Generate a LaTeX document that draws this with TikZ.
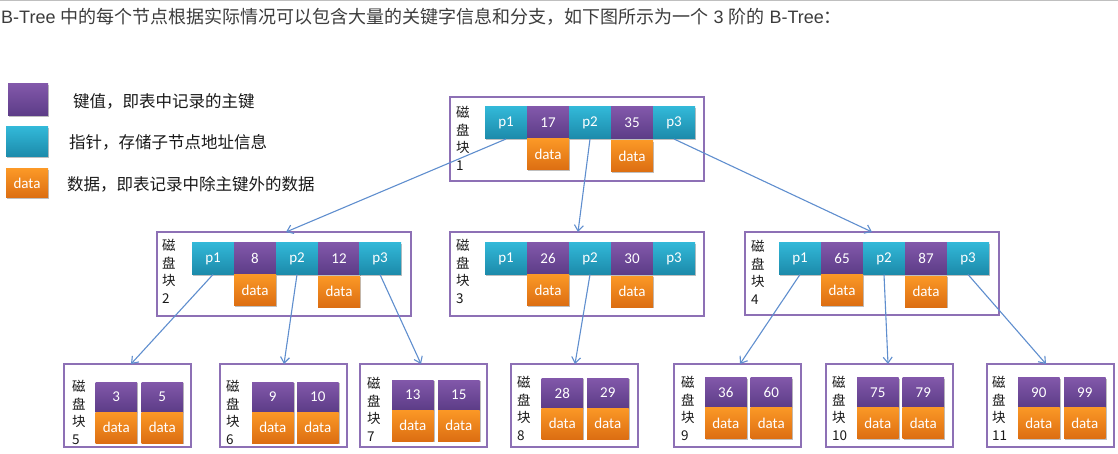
\documentclass[tikz,border=0pt]{standalone}
\usepackage{fontspec}
\setmainfont{Liberation Sans}
\newfontfamily\cjk{Noto Sans CJK SC}
\newfontfamily\calfont{Carlito}
\usetikzlibrary{shadows,arrows.meta,calc}
\definecolor{puT}{RGB}{130,88,170}
\definecolor{puB}{RGB}{92,60,135}
\definecolor{cyT}{RGB}{50,184,216}
\definecolor{cyB}{RGB}{28,138,170}
\definecolor{orT}{RGB}{251,152,38}
\definecolor{orB}{RGB}{220,110,18}
\definecolor{boxc}{RGB}{141,112,181}
\definecolor{arrc}{RGB}{95,142,206}
\definecolor{hdr}{RGB}{60,60,60}
\tikzset{
  cellbase/.style={rectangle, inner sep=0pt, outer sep=0pt, anchor=north west,
    text=white, font=\calfont\fontsize{15}{15}\selectfont,
    minimum width=42pt, minimum height=32pt,
    drop shadow={shadow xshift=1.2pt, shadow yshift=-1.2pt, opacity=0.25, fill=black}},
  ptrcell/.style={cellbase, top color=cyT, bottom color=cyB},
  keycell/.style={cellbase, top color=puT, bottom color=puB},
  datcell/.style={cellbase, top color=orT, bottom color=orB, minimum height=31pt},
  lkey/.style={keycell, minimum width=41.5pt, minimum height=30pt},
  ldat/.style={datcell, minimum width=41.5pt, minimum height=31pt},
  bbox/.style={rectangle, draw=boxc, line width=1.2pt, fill=white, anchor=north west,
    inner sep=0pt, outer sep=0pt, minimum width=254pt, minimum height=84pt},
  leafbox/.style={bbox, minimum width=127pt, minimum height=83pt},
  lbl/.style={anchor=north west, align=left, inner sep=0pt, text=black!90,
    font=\cjk\fontsize{13.5}{17.5}\selectfont},
  legtxt/.style={anchor=west, inner sep=0pt, text=black!90, font=\cjk\fontsize{16.5}{18}\selectfont},
  arr/.style={draw=arrc, line width=1.1pt, -{Straight Barb[length=6pt,width=9pt]}},
}
\begin{document}
\begin{tikzpicture}[x=1pt,y=-1pt]
\useasboundingbox (0,0) rectangle (1118,454);
\draw[black!25, line width=1.2pt] (0,0.6) -- (1118,0.6);
% header
\node[anchor=west, inner sep=0pt, text=hdr, font=\fontsize{18}{20}\selectfont] (hdr) at (1,17)
  {B-Tree {\cjk 中的每个节点根据实际情况可以包含大量的关键字信息和分支，如下图所示为一个} 3 {\cjk 阶的} B-Tree{\cjk ：}};
% legend
\node[keycell, minimum width=40pt, minimum height=32pt] (lgk) at (8,84) {};
\node[ptrcell, minimum width=42pt, minimum height=30pt] (lgp) at (6,127) {};
\node[datcell, minimum width=42pt, minimum height=29pt] (lgd) at (6,169) {data};
\node[legtxt] (lgkt) at (73,101) {键值，即表中记录的主键};
\node[legtxt] (lgpt) at (69,142) {指针，存储子节点地址信息};
\node[legtxt] (lgdt) at (67,184) {数据，即表记录中除主键外的数据};

% ---------- block 1
\node[bbox] (b1) at (450,97) {};
\node[lbl] (b1l) at (456,106) {磁\\盘\\块\\1};
\node[ptrcell] (b1p1) at (485,107) {p1};
\node[keycell] (b1k1) at (527,107) {17};
\node[ptrcell] (b1p2) at (569,107) {p2};
\node[keycell] (b1k2) at (611,107) {35};
\node[ptrcell] (b1p3) at (653,107) {p3};
\node[datcell] (b1d1) at (b1k1.south west) {data};
\node[datcell] (b1d2) at ($(b1k2.south west)+(0,1.5)$) {data};

% ---------- block 2
\node[bbox] (b2) at (157,232) {};
\node[lbl] (b2l) at (162,239) {磁\\盘\\块\\2};
\node[ptrcell] (b2p1) at (192,242.5) {p1};
\node[keycell] (b2k1) at (234,242.5) {8};
\node[ptrcell] (b2p2) at (276,242.5) {p2};
\node[keycell] (b2k2) at (318,242.5) {12};
\node[ptrcell] (b2p3) at (359,242.5) {p3};
\node[datcell] (b2d1) at (b2k1.south west) {data};
\node[datcell] (b2d2) at ($(b2k2.south west)+(0,1.5)$) {data};

% ---------- block 3
\node[bbox] (b3) at (450,232) {};
\node[lbl] (b3l) at (456,239) {磁\\盘\\块\\3};
\node[ptrcell] (b3p1) at (485,242.5) {p1};
\node[keycell] (b3k1) at (527,242.5) {26};
\node[ptrcell] (b3p2) at (569,242.5) {p2};
\node[keycell] (b3k2) at (611,242.5) {30};
\node[ptrcell] (b3p3) at (653,242.5) {p3};
\node[datcell] (b3d1) at (b3k1.south west) {data};
\node[datcell] (b3d2) at ($(b3k2.south west)+(0,1.5)$) {data};

% ---------- block 4
\node[bbox, minimum height=83pt] (b4) at (745,232) {};
\node[lbl] (b4l) at (751,240) {磁\\盘\\块\\4};
\node[ptrcell] (b4p1) at (779,242.5) {p1};
\node[keycell] (b4k1) at (821,242.5) {65};
\node[ptrcell] (b4p2) at (863,242.5) {p2};
\node[keycell] (b4k2) at (905,242.5) {87};
\node[ptrcell] (b4p3) at (947,242.5) {p3};
\node[datcell] (b4d1) at (b4k1.south west) {data};
\node[datcell] (b4d2) at ($(b4k2.south west)+(0,1.5)$) {data};

% ---------- leaves
\node[leafbox] (l5) at (64,364) {};
\node[lbl] (l5l) at (72,380) {磁\\盘\\块\\5};
\node[lkey] (l5k1) at (95.5,382) {3};
\node[lkey] (l5k2) at (141.5,382) {5};
\node[ldat] (l5d1) at (l5k1.south west) {data};
\node[ldat] (l5d2) at (l5k2.south west) {data};

\node[leafbox] (l6) at (220,364) {};
\node[lbl] (l6l) at (226,380) {磁\\盘\\块\\6};
\node[lkey] (l6k1) at (252,382) {9};
\node[lkey] (l6k2) at (297,382) {10};
\node[ldat] (l6d1) at (l6k1.south west) {data};
\node[ldat] (l6d2) at (l6k2.south west) {data};

\node[leafbox] (l7) at (360,364) {};
\node[lbl] (l7l) at (367,377) {磁\\盘\\块\\7};
\node[lkey] (l7k1) at (392,380) {13};
\node[lkey] (l7k2) at (438,380) {15};
\node[ldat] (l7d1) at (l7k1.south west) {data};
\node[ldat] (l7d2) at (l7k2.south west) {data};

\node[leafbox] (l8) at (511,364) {};
\node[lbl] (l8l) at (517,376) {磁\\盘\\块\\8};
\node[lkey] (l8k1) at (541.5,378) {28};
\node[lkey] (l8k2) at (587,378) {29};
\node[ldat] (l8d1) at (l8k1.south west) {data};
\node[ldat] (l8d2) at (l8k2.south west) {data};

\node[leafbox] (l9) at (674,364) {};
\node[lbl] (l9l) at (681,376) {磁\\盘\\块\\9};
\node[lkey] (l9k1) at (705,377.5) {36};
\node[lkey] (l9k2) at (750.5,377.5) {60};
\node[ldat] (l9d1) at (l9k1.south west) {data};
\node[ldat] (l9d2) at (l9k2.south west) {data};

\node[leafbox] (l10) at (826,364) {};
\node[lbl] (l10l) at (832,376) {磁\\盘\\块\\10};
\node[lkey] (l10k1) at (857,377.5) {75};
\node[lkey] (l10k2) at (902.5,377.5) {79};
\node[ldat] (l10d1) at (l10k1.south west) {data};
\node[ldat] (l10d2) at (l10k2.south west) {data};

\node[leafbox] (l11) at (987,364) {};
\node[lbl] (l11l) at (992,376) {磁\\盘\\块\\11};
\node[lkey] (l11k1) at (1018,377.5) {90};
\node[lkey] (l11k2) at (1064,377.5) {99};
\node[ldat] (l11d1) at (l11k1.south west) {data};
\node[ldat] (l11d2) at (l11k2.south west) {data};

% ---------- arrow targets
\coordinate (t2) at (286,232);
\coordinate (t3) at (578,232);
\coordinate (t4) at (872,232);
\coordinate (t5) at (131,364);
\coordinate (t6) at (284,364);
\coordinate (t7) at (421,364);
\coordinate (t8) at (575,364);
\coordinate (t9) at (740,364);
\coordinate (t10) at (888,364);
\coordinate (t11) at (1046,364);

\draw[arr] (b1p1.south) -- (t2);
\draw[arr] (b1p2.south) -- (t3);
\draw[arr] (b1p3.south) -- (t4);
\draw[arr] (b2p1.south) -- (t5);
\draw[arr] (b2p2.south) -- (t6);
\draw[arr] (b2p3.south) -- (t7);
\draw[arr] (b3p2.south) -- (t8);
\draw[arr] (b4p1.south) -- (t9);
\draw[arr] (b4p2.south) -- (t10);
\draw[arr] (b4p3.south) -- (t11);
\end{tikzpicture}
\end{document}
